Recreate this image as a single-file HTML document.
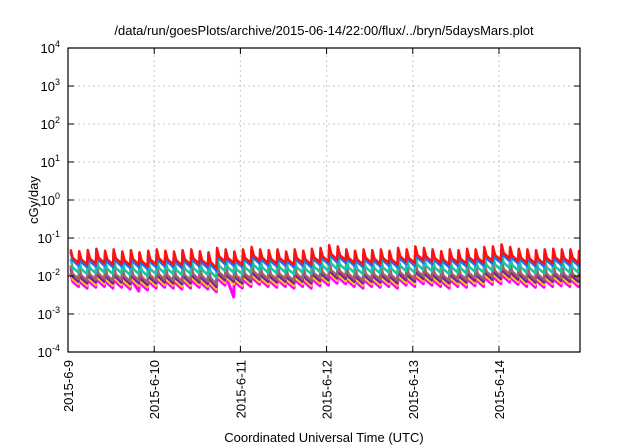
<!DOCTYPE html>
<html><head><meta charset="utf-8"><style>
html,body{margin:0;padding:0;background:#fff;}
svg{display:block;font-family:"Liberation Sans",sans-serif;}
</style></head><body>
<svg id="chart" width="640" height="448" viewBox="0 0 640 448">
<text x="324" y="35" text-anchor="middle" font-size="13" fill="#000">/data/run/goesPlots/archive/2015-06-14/22:00/flux/../bryn/5daysMars.plot</text>
<g id="grid"></g>
<g id="series"></g>
<rect x="68" y="48" width="512" height="304" fill="none" stroke="#000" stroke-width="1.2"/>
<g id="axes"></g>
<text x="0" y="0" transform="translate(38,200) rotate(-90)" text-anchor="middle" font-size="13">cGy/day</text>
<text x="324" y="442" text-anchor="middle" font-size="13">Coordinated Universal Time (UTC)</text>
</svg>
<script>
const xTickLabels = ["2015-6-9","2015-6-10","2015-6-11","2015-6-12","2015-6-13","2015-6-14"];
const yTickExps = [4,3,2,1,0,-1,-2,-3,-4];
const seriesNames = ["magenta","yellow","purple","brown","teal","blue","red"];
const seriesColors = ["#ff00ff","#ffd800","#7a1fa0","#a0606a","#20c0a0","#1a70ff","#ff1010"];
const seriesFactors = [0.24,0.28,0.32,0.38,0.56,0.85,1.0];
const cycleStart = 0.03;
const cyclePeriod = 0.1;
const redPeaks = [0.05,0.045,0.048,0.052,0.046,0.05,0.044,0.048,0.042,0.046,
 0.05,0.046,0.044,0.048,0.05,0.045,0.042,0.055,0.05,0.044,
 0.05,0.058,0.05,0.048,0.05,0.044,0.05,0.046,0.052,0.055,
 0.065,0.06,0.05,0.046,0.05,0.048,0.05,0.046,0.055,0.05,
 0.06,0.055,0.05,0.045,0.05,0.048,0.052,0.05,0.058,0.06,
 0.068,0.058,0.052,0.05,0.048,0.05,0.052,0.05,0.05,0.048];
const redTroughs = [0.022,0.02,0.021,0.022,0.02,0.021,0.019,0.02,0.018,0.02,
 0.021,0.02,0.019,0.02,0.021,0.019,0.016,0.024,0.022,0.02,
 0.022,0.025,0.022,0.021,0.022,0.02,0.022,0.02,0.023,0.024,
 0.027,0.026,0.022,0.02,0.022,0.021,0.022,0.02,0.024,0.022,
 0.026,0.024,0.022,0.02,0.022,0.021,0.023,0.022,0.025,0.026,
 0.029,0.025,0.022,0.021,0.021,0.022,0.023,0.022,0.022,0.021];
const magentaDips = [[7,0.004],[18,0.0028]];

const X0=68,X1=580,Y0=352,Y1=48;
const xDays=5.94;
function xs(d){return X0+(d/xDays)*(X1-X0);}
function ys(v){const l=Math.log10(v);return Y0-(l+4)/8*(Y0-Y1);}
const NS="http://www.w3.org/2000/svg";
const grid=document.getElementById('grid'),axes=document.getElementById('axes'),sg=document.getElementById('series');
function mk(t,a,p){const e=document.createElementNS(NS,t);for(const k in a)e.setAttribute(k,a[k]);p.appendChild(e);return e;}
yTickExps.forEach(ex=>{
 const y=ys(Math.pow(10,ex));
 if(ex<4&&ex>-4){const g=mk('line',{x1:X0,x2:X1,y1:y,y2:y,stroke:'#c8c8c8','stroke-dasharray':'2,3'},grid);
 
 }
 mk('line',{x1:X0,x2:X0+6,y1:y,y2:y,stroke:'#000'},axes);
 mk('line',{x1:X1,x2:X1-6,y1:y,y2:y,stroke:'#000'},axes);
 const t=mk('text',{x:X0-8,y:y+5,'text-anchor':'end','font-size':'13'},axes);
 
 
 t.textContent='10';
 const s=mk('tspan',{dy:'-6','font-size':'9'},t);s.textContent=String(ex);
});
xTickLabels.forEach((lab,i)=>{
 const x=xs(i);
 if(i>0){const g=mk('line',{x1:x,x2:x,y1:Y0,y2:Y1,stroke:'#c8c8c8','stroke-dasharray':'2,3'},grid);
 
 }
 mk('line',{x1:x,x2:x,y1:Y0,y2:Y0-6,stroke:'#000'},axes);
 mk('line',{x1:x,x2:x,y1:Y1,y2:Y1+6,stroke:'#000'},axes);
 const t=mk('text',{x:0,y:0,transform:`translate(${x+5},${Y0+8}) rotate(-90)`,'text-anchor':'end','font-size':'13'},axes);
 
 
 t.textContent=lab;
});
seriesNames.forEach((nm,si)=>{
 const f=seriesFactors[si];let pts=[];
 redPeaks.forEach((p,i)=>{
  const t0=cycleStart+i*cyclePeriod;
  const tr=redTroughs[i];
  const mid=Math.sqrt(p*tr)*0.9;
  let trough=tr*f;
  if(si===0){magentaDips.forEach(d=>{if(d[0]===i)trough=d[1];});}
  pts.push([t0,p*f],[t0+0.025,mid*f],[t0+cyclePeriod*0.92,trough]);
 });
 pts=pts.filter(p=>p[0]<=xDays);
 const d=pts.map((p,i)=>(i?'L':'M')+xs(p[0]).toFixed(1)+','+ys(p[1]).toFixed(1)).join(' ');
 const path=mk('path',{d:d,fill:'none',stroke:seriesColors[si],'stroke-width':si===0?3:2.5,'stroke-linejoin':'round'},sg);
 
 
});
</script>
</body></html>
